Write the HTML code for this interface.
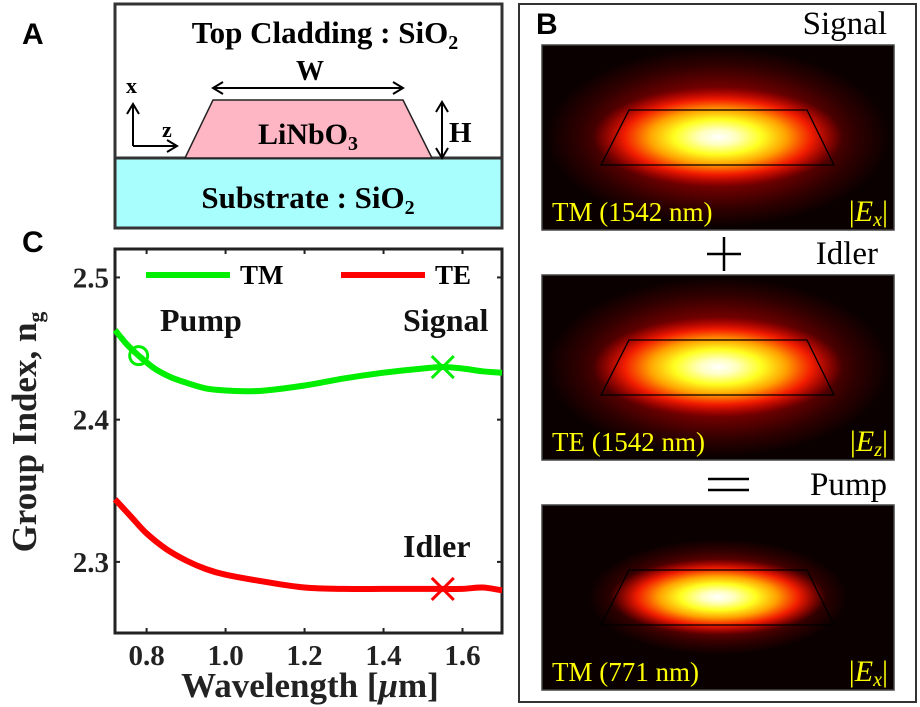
<!DOCTYPE html>
<html><head><meta charset="utf-8"><style>
body{margin:0;background:#fff}
svg{display:block;font-family:"Liberation Serif",serif}
.b{font-weight:bold}
.lab{font-family:"Liberation Sans",sans-serif;font-weight:bold;font-size:30px}
</style></head><body>
<svg id="fig" width="920" height="707" viewBox="0 0 920 707">
<defs>
<radialGradient id="outer" cx="0.5" cy="0.5" r="0.5">
<stop offset="0" stop-color="#d00000"/><stop offset="0.5" stop-color="#800000"/><stop offset="0.8" stop-color="#300000"/><stop offset="1" stop-color="#0a0000"/>
</radialGradient>
<radialGradient id="inner" cx="0.5" cy="0.5" r="0.5">
<stop offset="0" stop-color="#ffffff"/><stop offset="0.15" stop-color="#ffffc0"/><stop offset="0.35" stop-color="#ffff20"/><stop offset="0.55" stop-color="#ffa000"/><stop offset="0.75" stop-color="#ff2000" stop-opacity="0.9"/><stop offset="1" stop-color="#d00000" stop-opacity="0"/>
</radialGradient>
<clipPath id="mclip"><rect x="0" y="0" width="352" height="185"/></clipPath>
</defs>
<!-- Panel A -->
<text class="lab" x="22" y="44">A</text>
<g>
<rect x="115" y="4" width="387" height="154" fill="#fff" stroke="#333" stroke-width="3"/>
<rect x="115" y="158" width="387" height="70" fill="#a8fdfd" stroke="#333" stroke-width="3"/>
<polygon points="185,158 213,100 403,100 432,158" fill="#ffb6c4" stroke="#222" stroke-width="1.5"/>
<text class="b" x="325" y="43" font-size="31" text-anchor="middle">Top Cladding : SiO<tspan font-size="20" dy="6">2</tspan></text>
<text class="b" x="310" y="80" font-size="28" text-anchor="middle">W</text>
<line x1="215" y1="88" x2="401" y2="88" stroke="#000" stroke-width="2"/>
<path d="M223,82 L213,88 L223,94 M393,82 L403,88 L393,94" fill="none" stroke="#000" stroke-width="2"/>
<text class="b" x="308" y="144" font-size="30" text-anchor="middle">LiNbO<tspan font-size="20" dy="6">3</tspan></text>
<line x1="442" y1="104" x2="442" y2="156" stroke="#000" stroke-width="2"/>
<path d="M436,112 L442,102 L448,112 M436,148 L442,158 L448,148" fill="none" stroke="#000" stroke-width="2"/>
<text class="b" x="449" y="142" font-size="29">H</text>
<text class="b" x="126" y="93" font-size="22">x</text>
<text class="b" x="162" y="137" font-size="22">z</text>
<path d="M133,146 L133,104 M127,114 L133,104 L139,114 M133,146 L176,146 M167,140 L177,146 L167,152" fill="none" stroke="#000" stroke-width="2"/>
<text class="b" x="308" y="208" font-size="31" text-anchor="middle">Substrate : SiO<tspan font-size="20" dy="6">2</tspan></text>
</g>
<!-- Panel B -->
<rect x="519" y="4" width="397" height="698" fill="none" stroke="#333" stroke-width="2"/>
<text class="lab" x="536" y="34">B</text>
<text x="887" y="34" font-size="33" text-anchor="end">Signal</text>
<text x="878" y="264" font-size="33" text-anchor="end">Idler</text>
<text x="887" y="495" font-size="33" text-anchor="end">Pump</text>
<path d="M707,254 L741,254 M724,237 L724,271" stroke="#000" stroke-width="2.5"/>
<path d="M708,479 L749,479 M708,490 L749,490" stroke="#000" stroke-width="2.5"/>
<g id="modes"></g>
<!-- Panel C -->
<text class="lab" x="22" y="252">C</text>
<g id="chart"></g>
</svg>
<script>
const NS='http://www.w3.org/2000/svg';
function mk(tag,attrs,parent){const e=document.createElementNS(NS,tag);for(const k in attrs)e.setAttribute(k,attrs[k]);parent.appendChild(e);return e;}
// Mode images
const modeTops=[45,275,505];
const modeLabels=['TM (1542 nm)','TE (1542 nm)','TM (771 nm)'];
const modeFields=['x','z','x'];
const outerRx=[172,172,130];
const outerRy=[90,90,58];
const innerRx=[125,125,108];
const innerRy=[50,50,38];
const modesG=document.getElementById('modes');
modeTops.forEach((t,i)=>{
  const g=mk('g',{transform:`translate(542,${t})`},modesG);
  
  
  const cg=mk('g',{'clip-path':'url(#mclip)'},g);
  mk('rect',{x:0,y:0,width:352,height:185,fill:'#0a0000'},cg);
  mk('ellipse',{cx:176,cy:92,rx:outerRx[i],ry:outerRy[i],fill:'url(#outer)'},cg);
  mk('ellipse',{cx:176,cy:92,rx:innerRx[i],ry:innerRy[i],fill:'url(#inner)'},cg);
  mk('rect',{x:0,y:0,width:352,height:185,fill:'none',stroke:'#444','stroke-width':1.5},g);
  mk('polygon',{points:'59,120 87,65 265,65 292,120',fill:'none',stroke:'#000','stroke-width':1.3},g);
  const tl=mk('text',{x:10,y:176,'font-size':27,fill:'#ffff00'},g);tl.textContent=modeLabels[i];
  
  
  const fl=mk('text',{x:346,y:176,'font-size':30,fill:'#ffff00','text-anchor':'end'},g);
  fl.innerHTML='|<tspan font-style="italic">E</tspan><tspan font-style="italic" font-size="20" dy="5">'+modeFields[i]+'</tspan><tspan dy="-5">|</tspan>';
  
  
});
// Chart data
const tmX=[0.72,0.75,0.78,0.82,0.86,0.90,0.95,1.00,1.05,1.10,1.20,1.30,1.40,1.50,1.55,1.60,1.65,1.70];
const tmY=[2.463,2.453,2.445,2.436,2.430,2.426,2.422,2.4205,2.420,2.4205,2.424,2.429,2.433,2.436,2.437,2.436,2.434,2.433];
const teX=[0.72,0.76,0.80,0.85,0.90,0.95,1.00,1.10,1.20,1.30,1.40,1.50,1.55,1.60,1.65,1.70];
const teY=[2.344,2.332,2.320,2.309,2.301,2.295,2.291,2.286,2.282,2.281,2.281,2.281,2.281,2.281,2.282,2.280];
const xTicks=[0.8,1.0,1.2,1.4,1.6];
const yTicks=[2.3,2.4,2.5];
const pumpPt=[0.78,2.445], signalPt=[1.55,2.437], idlerPt=[1.55,2.281];
const L=115,R=502,T=249,B=633;
const sx=v=>L+(v-0.72)/(1.70-0.72)*(R-L);
const sy=v=>B-(v-2.25)/(2.52-2.25)*(B-T);
const c=document.getElementById('chart');
const frame=mk('rect',{x:L,y:T,width:R-L,height:B-T,fill:'none',stroke:'#222','stroke-width':3},c);


xTicks.forEach(v=>{
  mk('line',{x1:sx(v),x2:sx(v),y1:B,y2:B-5,stroke:'#222','stroke-width':2},c);
  mk('line',{x1:sx(v),x2:sx(v),y1:T,y2:T+5,stroke:'#222','stroke-width':2},c);
  const t=mk('text',{x:sx(v),y:B+32,'font-size':29,'font-weight':'bold','text-anchor':'middle',fill:'#222'},c);
  t.textContent=v.toFixed(1);
  
  
});
yTicks.forEach(v=>{
  mk('line',{x1:L,x2:L+5,y1:sy(v),y2:sy(v),stroke:'#222','stroke-width':2},c);
  mk('line',{x1:R,x2:R-5,y1:sy(v),y2:sy(v),stroke:'#222','stroke-width':2},c);
  const t=mk('text',{x:L-6,y:sy(v)+10,'font-size':29,'font-weight':'bold','text-anchor':'end',fill:'#222'},c);
  t.textContent=v.toFixed(1);
  
  
});
function line(xs,ys,col,name){
  const P=xs.map((x,i)=>[sx(x),sy(ys[i])]);
  let d='M'+P[0][0].toFixed(1)+','+P[0][1].toFixed(1);
  for(let i=0;i<P.length-1;i++){
    const p0=P[Math.max(i-1,0)],p1=P[i],p2=P[i+1],p3=P[Math.min(i+2,P.length-1)];
    const c1=[p1[0]+(p2[0]-p0[0])/6,p1[1]+(p2[1]-p0[1])/6];
    const c2=[p2[0]-(p3[0]-p1[0])/6,p2[1]-(p3[1]-p1[1])/6];
    d+=` C${c1[0].toFixed(1)},${c1[1].toFixed(1)} ${c2[0].toFixed(1)},${c2[1].toFixed(1)} ${p2[0].toFixed(1)},${p2[1].toFixed(1)}`;
  }
  const p=mk('path',{d:d,fill:'none',stroke:col,'stroke-width':6,'stroke-linejoin':'round'},c);
  
  
}
line(tmX,tmY,'#00ee00','tm-curve');
line(teX,teY,'#ff0000','te-curve');
const pc=mk('circle',{cx:sx(pumpPt[0]),cy:sy(pumpPt[1]),r:9,fill:'none',stroke:'#00ee00','stroke-width':3},c);


function cross(pt,col,name){
  const x=sx(pt[0]),y=sy(pt[1]),s=11;
  const p=mk('path',{d:`M${x-s},${y-s} L${x+s},${y+s} M${x-s},${y+s} L${x+s},${y-s}`,stroke:col,'stroke-width':3},c);
  
  
}
cross(signalPt,'#00ee00','signal-marker');
cross(idlerPt,'#ff0000','idler-marker');
const texts=[['Pump',160,331,'pump-annotation'],['Signal',403,331,'signal-annotation'],['Idler',403,557,'idler-annotation']];
texts.forEach(a=>{const t=mk('text',{x:a[1],y:a[2],'font-size':32,'font-weight':'bold',fill:'#111'},c);t.textContent=a[0];
  
  });
// legend
mk('line',{x1:146,x2:230,y1:275,y2:275,stroke:'#00ee00','stroke-width':6},c);
mk('line',{x1:341,x2:425,y1:275,y2:275,stroke:'#ff0000','stroke-width':6},c);
const l1=mk('text',{x:240,y:284,'font-size':27,'font-weight':'bold'},c);l1.textContent='TM';


const l2=mk('text',{x:435,y:284,'font-size':27,'font-weight':'bold'},c);l2.textContent='TE';


const xt=mk('text',{x:310,y:697,'font-size':35,'font-weight':'bold','text-anchor':'middle',fill:'#222'},c);
xt.innerHTML='Wavelength [<tspan font-style="italic">μ</tspan>m]';


const yt=mk('text',{x:0,y:0,'font-size':35,'font-weight':'bold','text-anchor':'middle',fill:'#222',transform:'translate(36,432) rotate(-90)'},c);
yt.innerHTML='Group Index, n<tspan font-size="22" dy="7">g</tspan>';


</script>
</body></html>
